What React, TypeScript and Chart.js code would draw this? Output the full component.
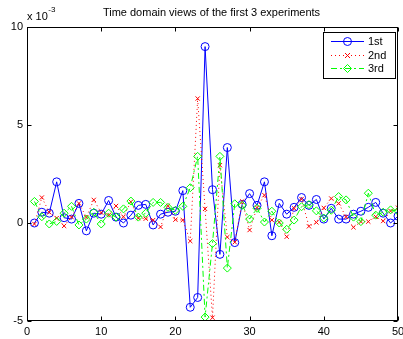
import React, { useEffect, useRef } from "react";
import { Chart, registerables } from "chart.js";

Chart.register(...registerables);

const chartTitle = "Time domain views of the first 3 experiments";
const exponentBase = "x 10";
const exponentPower = "-3";
const seriesNames = ["1st", "2nd", "3rd"];

const sampleIndex = [
  1, 2, 3, 4, 5, 6, 7, 8, 9, 10, 11, 12, 13, 14, 15, 16, 17, 18, 19, 20, 21, 22, 23, 24, 25,
  26, 27, 28, 29, 30, 31, 32, 33, 34, 35, 36, 37, 38, 39, 40, 41, 42, 43, 44, 45, 46, 47, 48, 49, 50,
];

// values in units of 1e-3
const first = [
  0.0, 0.55, 0.5, 2.1, 0.27, 0.2, 1.0, -0.4, 0.5, 0.45, 1.15, 0.3, 0.0, 0.4, 0.9, 0.95, -0.1, 0.45, 0.55, 0.6,
  1.65, -4.3, -3.8, 9.0, 1.7, -1.6, 3.85, -1.0, 0.95, 1.5, 0.9, 2.1, -0.65, 1.0, 0.45, 0.8, 1.3, 0.9, 1.2, 0.2,
  0.75, 0.2, 0.2, 0.45, 0.6, 0.8, 1.05, 0.5, 0.0, 0.35,
];
const second = [
  -0.05, 1.3, 0.55, 0.25, -0.15, 0.3, 1.0, 0.3, 1.18, 0.53, 0.4, 0.87, 0.32, 1.08, 0.25, 0.22, 0.15, -0.2, 0.88, 0.17,
  0.15, -0.92, 6.35, 0.72, -4.83, 2.95, -0.72, -0.98, 1.1, -0.36, 0.78, 1.42, 0.15, 0.05, -0.7, 0.75, 1.22, -0.17, 0.03, 0.77,
  1.25, 1.0, 0.32, -0.22, 0.07, 0.07, 0.32, 0.1, 0.61, 0.78,
];
const third = [
  1.1, 0.32, -0.05, 0.08, 0.5, 0.85, -0.1, 0.2, 0.55, -0.05, 0.5, 0.3, 0.72, 1.12, 0.3, 0.5, 1.05, 1.05, 0.8, 0.65,
  0.85, 1.8, 3.4, -4.8, -1.05, 3.4, -2.3, 0.98, 0.9, 0.2, 0.75, 0.05, 0.6, 0.0, -0.32, 0.15, 0.83, 0.94, 0.62, 0.25,
  0.65, 1.35, 1.18, 0.3, 0.07, 1.52, 0.4, 0.55, 0.67, 0.6,
];

const xTicks = [0, 10, 20, 30, 40, 50];
const yTicks = [-5, 0, 5, 10];

const FONT = "'Liberation Sans', Arial, Helvetica, sans-serif";

const toPoints = (vals: number[]) => vals.map((v, i) => ({ x: sampleIndex[i], y: v }));

const decorPlugin = {
  id: "matlabDecor",
  afterDatasetsDraw(chart: any) {
    const { ctx, chartArea } = chart;
    const xs = chart.scales.x;
    const ys = chart.scales.y;
    const L = Math.round(chartArea.left) + 0.5;
    const R = Math.round(chartArea.right) - 0.5;
    const T = Math.round(chartArea.top) + 0.5;
    const B = Math.round(chartArea.bottom) - 0.5;
    ctx.save();
    ctx.strokeStyle = "#000";
    ctx.lineWidth = 1;
    ctx.setLineDash([]);
    ctx.strokeRect(L, T, R - L, B - T);
    const tl = 4;
    ctx.beginPath();
    xTicks.forEach((t) => {
      const px = Math.round(xs.getPixelForValue(t)) + 0.5;
      ctx.moveTo(px, B);
      ctx.lineTo(px, B - tl);
      ctx.moveTo(px, T);
      ctx.lineTo(px, T + tl);
    });
    yTicks.forEach((t) => {
      const py = Math.round(ys.getPixelForValue(t)) + 0.5;
      ctx.moveTo(L, py);
      ctx.lineTo(L + tl, py);
      ctx.moveTo(R, py);
      ctx.lineTo(R - tl, py);
    });
    ctx.stroke();

    // title
    ctx.fillStyle = "#000";
    ctx.font = `11px ${FONT}`;
    ctx.textAlign = "center";
    ctx.textBaseline = "middle";
    ctx.fillText(chartTitle, (chartArea.left + chartArea.right) / 2 - 1, 13);

    // exponent label
    ctx.textAlign = "left";
    ctx.fillText(exponentBase, chartArea.left, 17);
    const w = ctx.measureText(exponentBase).width;
    ctx.font = `8px ${FONT}`;
    ctx.fillText(exponentPower, chartArea.left + w + 0.5, 10);

    // legend
    const bx = 323.5, by = 32.5, bw = 72, bh = 46;
    ctx.fillStyle = "#fff";
    ctx.fillRect(bx, by, bw, bh);
    ctx.strokeStyle = "#000";
    ctx.strokeRect(bx, by, bw, bh);
    const rows = [41, 55, 68];
    chart.data.datasets.forEach((ds: any, i: number) => {
      const y = rows[i];
      ctx.save();
      ctx.strokeStyle = ds.borderColor;
      ctx.lineWidth = 1;
      ctx.setLineDash(ds.borderDash || []);
      ctx.beginPath();
      ctx.moveTo(331, y + 0.5);
      ctx.lineTo(364, y + 0.5);
      ctx.stroke();
      ctx.setLineDash([]);
      ctx.restore();
      ctx.save();
      ctx.strokeStyle = ds.pointBorderColor;
      ctx.fillStyle = "rgba(0,0,0,0)";
      ctx.lineWidth = 1;
      (Chart as any).helpers?.drawPoint
        ? (Chart as any).helpers.drawPoint(ctx, { pointStyle: ds.pointStyle, radius: ds.pointRadius, borderWidth: 1, rotation: 0 }, 347.5, y + 0.5)
        : null;
      ctx.restore();
      ctx.fillStyle = "#000";
      ctx.font = `11px ${FONT}`;
      ctx.textAlign = "left";
      ctx.textBaseline = "middle";
      ctx.fillText(seriesNames[i], 368, y + 1);
    });
    ctx.restore();
  },
};

function drawMarker(ctx: CanvasRenderingContext2D, style: string, r: number, x: number, y: number) {
  ctx.beginPath();
  if (style === "circle") {
    ctx.arc(x, y, r, 0, Math.PI * 2);
  } else if (style === "crossRot") {
    ctx.moveTo(x - r, y - r);
    ctx.lineTo(x + r, y + r);
    ctx.moveTo(x + r, y - r);
    ctx.lineTo(x - r, y + r);
  } else if (style === "rectRot") {
    ctx.moveTo(x, y - r);
    ctx.lineTo(x + r, y);
    ctx.lineTo(x, y + r);
    ctx.lineTo(x - r, y);
    ctx.closePath();
  }
  ctx.stroke();
}

const legendMarkerPlugin = {
  id: "legendMarkers",
  afterDraw(chart: any) {
    const { ctx } = chart;
    const rows = [41, 55, 68];
    ctx.save();
    chart.data.datasets.forEach((ds: any, i: number) => {
      ctx.strokeStyle = ds.pointBorderColor;
      ctx.lineWidth = 1;
      ctx.setLineDash([]);
      const r = ds.pointStyle === "crossRot" ? 2.5 : ds.pointRadius;
      drawMarker(ctx, ds.pointStyle, r, 347.5, rows[i] + 0.5);
    });
    ctx.restore();
  },
};

export default function App() {
  const ref = useRef<HTMLCanvasElement | null>(null);
  useEffect(() => {
    if (!ref.current) return;
    const chart = new Chart(ref.current, {
      type: "line",
      data: {
        datasets: [
          {
            label: seriesNames[0],
            data: toPoints(first),
            borderColor: "#0000ff",
            borderWidth: 1,
            pointStyle: "circle",
            pointRadius: 4,
            pointBorderColor: "#0000ff",
            pointBackgroundColor: "rgba(0,0,0,0)",
            pointBorderWidth: 1,
            backgroundColor: "rgba(0,0,0,0)",
            fill: false,
            tension: 0,
            order: 3,
          },
          {
            label: seriesNames[1],
            data: toPoints(second),
            borderColor: "#ff0000",
            borderWidth: 1,
            borderDash: [1, 3],
            pointStyle: "crossRot",
            pointRadius: 3,
            pointBorderColor: "#ff0000",
            pointBackgroundColor: "rgba(0,0,0,0)",
            pointBorderWidth: 1,
            backgroundColor: "rgba(0,0,0,0)",
            fill: false,
            tension: 0,
            order: 2,
          },
          {
            label: seriesNames[2],
            data: toPoints(third),
            borderColor: "#00ff00",
            borderWidth: 1,
            borderDash: [6, 3, 2, 3],
            pointStyle: "rectRot",
            pointRadius: 4,
            pointBorderColor: "#00ff00",
            pointBackgroundColor: "rgba(0,0,0,0)",
            pointBorderWidth: 1,
            backgroundColor: "rgba(0,0,0,0)",
            fill: false,
            tension: 0,
            order: 1,
          },
        ],
      },
      options: {
        responsive: false,
        animation: false,
        devicePixelRatio: 1,
        layout: { padding: { top: 27, right: 3, left: 0, bottom: 0 } },
        plugins: {
          legend: { display: false },
          title: { display: false },
          tooltip: { enabled: false },
        },
        scales: {
          x: {
            type: "linear",
            min: 0,
            max: 50,
            afterFit: (s: any) => {
              s.height = 18;
              s.paddingLeft = 0;
              s.paddingRight = 0;
            },
            afterBuildTicks: (s: any) => {
              s.ticks = xTicks.map((v) => ({ value: v }));
            },
            ticks: {
              color: "#000",
              font: { family: FONT, size: 11 },
              padding: 4,
              maxRotation: 0,
              autoSkip: false,
            },
            grid: { display: false, drawTicks: false },
            border: { display: false },
          },
          y: {
            type: "linear",
            min: -5,
            max: 10,
            afterFit: (s: any) => {
              s.width = 27;
              s.paddingTop = 0;
              s.paddingBottom = 0;
            },
            afterBuildTicks: (s: any) => {
              s.ticks = yTicks.map((v) => ({ value: v }));
            },
            ticks: {
              color: "#000",
              font: { family: FONT, size: 11 },
              padding: 4,
              callback: (v: any) => String(v),
            },
            grid: { display: false, drawTicks: false },
            border: { display: false },
          },
        },
      },
      plugins: [decorPlugin, legendMarkerPlugin],
    } as any);
    return () => chart.destroy();
  }, []);
  return (
    <div style={{ position: "fixed", left: 0, top: 0, width: 403, height: 339, background: "#fff" }}>
      <canvas ref={ref} width={403} height={339} style={{ width: 403, height: 339, display: "block" }} />
    </div>
  );
}
